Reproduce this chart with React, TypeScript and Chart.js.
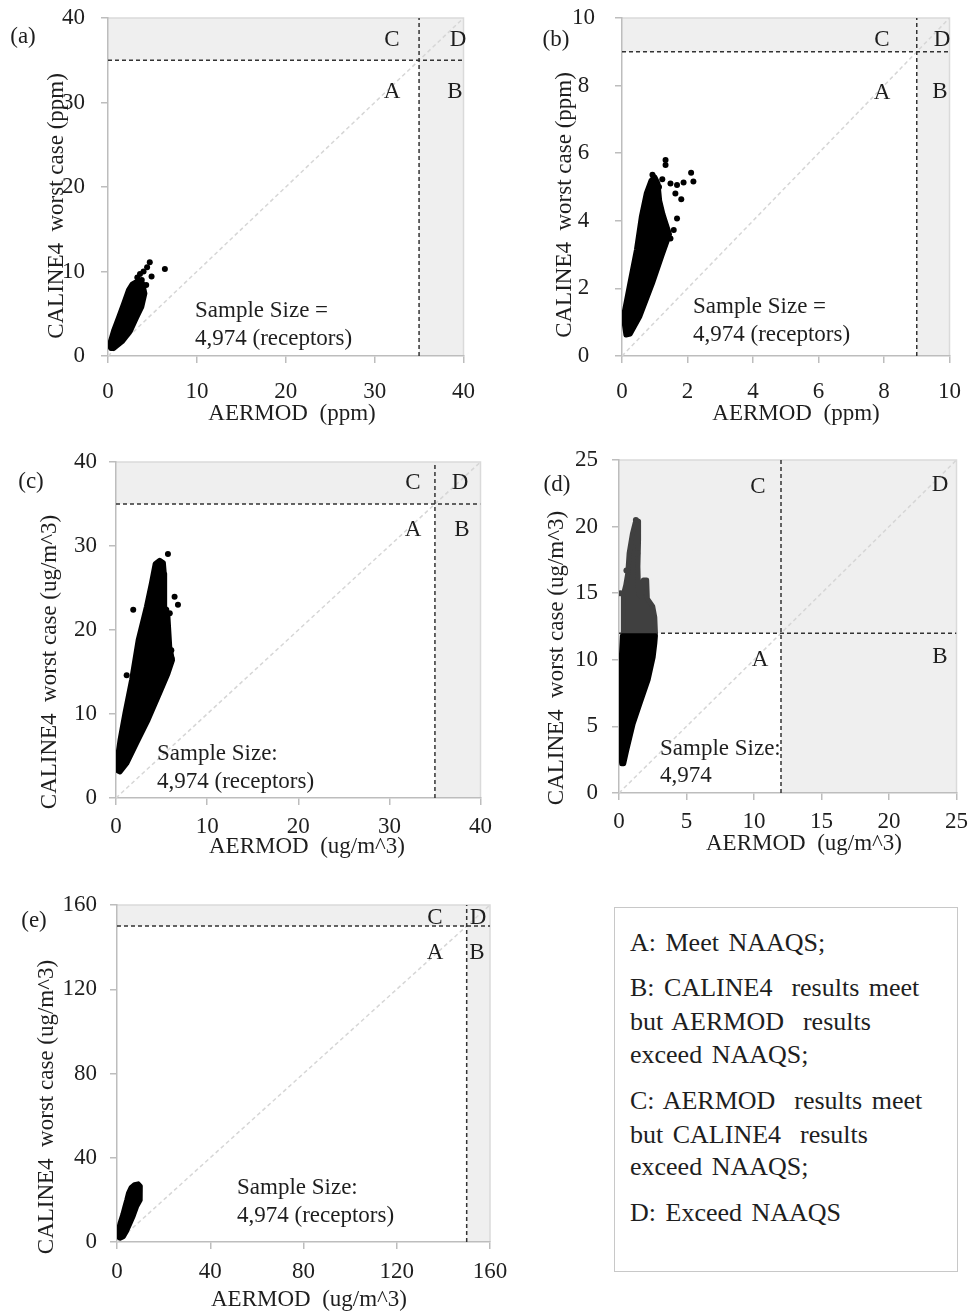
import React, { useEffect, useRef } from "react";
import { Chart, registerables } from "chart.js";

Chart.register(...registerables);

const FONT = "'Liberation Serif', 'Times New Roman', serif";
const FS = 23;
const TXT = "#1e1e1e";
const AX = "#bdbdbd";

// ---------- data ----------
// (a) CO 1-hr, ppm
const aThreshold = 35;
const aBlob = [[0.15,1.3],[0.66,3.1],[1.2,4.6],[1.76,6.2],[2.3,7.8],[2.7,8.5],[3.2,8.8],[3.9,8.6],[4.15,7.4],[3.8,5.8],[3.2,4.5],[2.5,2.9],[1.6,1.7],[0.66,0.9],[0.3,0.9]];
const aOutliers = [[3.3,9.3],[3.6,9.7],[4.0,10.0],[4.4,10.5],[4.7,11.1],[4.9,9.4],[6.4,10.3],[3.8,9.0],[4.3,8.4]];

// (b) CO 8-hr, ppm
const bThreshold = 9;
const bBlob = [[0.12,0.62],[0.04,1.16],[0.24,2.15],[0.44,3.14],[0.59,4.12],[0.74,4.81],[0.89,5.2],[1.0,5.3],[1.1,5.1],[1.15,4.6],[1.25,4.2],[1.35,3.9],[1.45,3.6],[1.23,3.0],[0.93,2.15],[0.54,1.16],[0.25,0.65]];
const bOutliers = [[1.33,5.8],[1.33,5.65],[1.23,5.23],[1.48,5.1],[1.63,4.81],[1.68,5.06],[1.88,5.13],[2.11,5.42],[2.18,5.16],[1.81,4.64],[1.68,4.07],[1.58,3.73],[1.48,3.48],[1.18,4.32],[0.93,5.36],[1.13,5.0]];

// (c) PM2.5 24-hr, ug/m^3
const cThreshold = 35;
const cBlob = [[0.25,3.2],[0.07,4.1],[0.44,6.9],[0.98,10.1],[1.71,14.05],[2.43,18.8],[3.34,22.8],[3.89,25.6],[4.3,27.9],[4.8,28.3],[5.2,28.0],[5.3,26.7],[5.34,22.8],[5.7,21.6],[5.9,18.0],[6.2,16.4],[5.7,14.8],[4.8,12.5],[3.53,9.3],[2.25,6.5],[1.17,4.1],[0.44,3.1]];
const cOutliers = [[5.7,29.05],[1.89,22.4],[6.43,23.96],[6.8,23.0],[5.52,22.4],[1.17,14.6],[4.43,26.9],[5.16,25.2],[5.9,22.0],[6.07,17.6],[6.1,16.6]];

// (d) PM2.5 annual, ug/m^3
const dThreshold = 12;
const dBlobBelow = [[0.2,2.2],[0.05,3.5],[0.0,4.7],[0.07,7.2],[0.15,9.7],[0.25,11.8],[2.7,11.8],[2.65,11.2],[2.53,10.2],[2.16,8.5],[1.55,6.7],[1.05,5.2],[0.57,3.2],[0.35,2.2]];
const dBlobAbove = [[0.3,12.0],[0.35,13.3],[0.3,14.9],[0.5,15.6],[0.65,16.5],[0.75,18.0],[1.0,19.5],[1.2,20.3],[1.45,20.4],[1.45,19.0],[1.4,17.0],[1.45,15.0],[1.6,14.8],[1.8,16.0],[2.05,16.0],[2.1,14.6],[2.5,14.0],[2.65,13.2],[2.7,12.0]];
const dOutliersAbove = [[0.1,15.0],[0.55,16.7],[1.35,18.0],[1.25,20.5]];

// (e) PM10 24-hr, ug/m^3
const eThreshold = 150;
const eBlob = [[0.3,2.5],[0.5,5.0],[1.3,8.9],[2.5,13.0],[3.4,16.8],[4.2,20.0],[4.9,23.1],[6.0,25.8],[7.5,27.2],[9.1,27.6],[10.0,26.5],[10.0,23.0],[9.9,19.9],[8.4,16.8],[7.0,12.5],[5.6,8.9],[4.0,5.0],[2.7,2.5],[1.3,1.8]];

const legendLines = [
  "A: Meet NAAQS;",
  "B: CALINE4  results meet",
  "but AERMOD  results",
  "exceed NAAQS;",
  "C: AERMOD  results meet",
  "but CALINE4  results",
  "exceed NAAQS;",
  "D: Exceed NAAQS",
];

// ---------- layout ----------
type Txt = { t: string; x: number; y: number; align?: CanvasTextAlign };
type PanelCfg = {
  box: { left: number; top: number; w: number; h: number };
  area: { L: number; T: number; R: number; B: number };
  yTitleMid: number; yTitleCenter: number;
  xTitleMid: number; xTitleCenter: number;
  xMax: number; yMax: number; step: number; th: number;
  xTitle: string; yTitle: string;
  yTickPad: number; xTickPad: number; yCross: "near" | "center";
  blobs: { pts: number[][]; color: string; order: number }[];
  points: { pts: number[][]; color: string }[];
  texts: Txt[];
};

const YT_PPM = "CALINE4  worst case (ppm)";
const XT_PPM = "AERMOD  (ppm)";
const YT_UG = "CALINE4  worst case (ug/m^3)";
const XT_UG = "AERMOD  (ug/m^3)";

const panels: PanelCfg[] = [
  {
    box: { left: 0, top: -20, w: 490, h: 455 },
    area: { L: 108, T: 18, R: 472, B: 356 },
    yTitleMid: 57, yTitleCenter: 206, xTitleMid: 414, xTitleCenter: 292,
    xMax: 40, yMax: 40, step: 10, th: aThreshold,
    xTitle: XT_PPM, yTitle: YT_PPM,
    yTickPad: 16, xTickPad: 15, yCross: "near",
    blobs: [{ pts: aBlob, color: "#000", order: 2 }],
    points: [{ pts: aOutliers, color: "#000" }],
    texts: [
      { t: "(a)", x: 23, y: 37 },
      { t: "C", x: 392, y: 40 }, { t: "D", x: 458, y: 40 },
      { t: "A", x: 392, y: 92 }, { t: "B", x: 455, y: 92 },
      { t: "Sample Size =", x: 195, y: 311, align: "left" },
      { t: "4,974 (receptors)", x: 195, y: 339, align: "left" },
    ],
  },
  {
    box: { left: 490, top: -20, w: 486, h: 455 },
    area: { L: 622, T: 18, R: 957, B: 356 },
    yTitleMid: 565, yTitleCenter: 205, xTitleMid: 414, xTitleCenter: 796,
    xMax: 10, yMax: 10, step: 2, th: bThreshold,
    xTitle: XT_PPM, yTitle: YT_PPM,
    yTickPad: 20, xTickPad: 15, yCross: "center",
    blobs: [{ pts: bBlob, color: "#000", order: 2 }],
    points: [{ pts: bOutliers, color: "#000" }],
    texts: [
      { t: "(b)", x: 556, y: 40 },
      { t: "C", x: 882, y: 40 }, { t: "D", x: 942, y: 40 },
      { t: "A", x: 882, y: 93 }, { t: "B", x: 940, y: 92 },
      { t: "Sample Size =", x: 693, y: 307, align: "left" },
      { t: "4,974 (receptors)", x: 693, y: 335, align: "left" },
    ],
  },
  {
    box: { left: 0, top: 435, w: 500, h: 440 },
    area: { L: 116, T: 462, R: 483, B: 798 },
    yTitleMid: 50, yTitleCenter: 662, xTitleMid: 847, xTitleCenter: 307,
    xMax: 40, yMax: 40, step: 10, th: cThreshold,
    xTitle: XT_UG, yTitle: YT_UG,
    yTickPad: 12, xTickPad: 8, yCross: "near",
    blobs: [{ pts: cBlob, color: "#000", order: 2 }],
    points: [{ pts: cOutliers, color: "#000" }],
    texts: [
      { t: "(c)", x: 31, y: 482 },
      { t: "C", x: 413, y: 483 }, { t: "D", x: 460, y: 483 },
      { t: "A", x: 413, y: 530 }, { t: "B", x: 462, y: 530 },
      { t: "Sample Size:", x: 157, y: 754, align: "left" },
      { t: "4,974 (receptors)", x: 157, y: 782, align: "left" },
    ],
  },
  {
    box: { left: 490, top: 425, w: 486, h: 450 },
    area: { L: 619, T: 460, R: 958, B: 793 },
    yTitleMid: 557, yTitleCenter: 658, xTitleMid: 844, xTitleCenter: 804,
    xMax: 25, yMax: 25, step: 5, th: dThreshold,
    xTitle: XT_UG, yTitle: YT_UG,
    yTickPad: 14, xTickPad: 8, yCross: "near",
    blobs: [
      { pts: dBlobAbove, color: "#404040", order: 3 },
      { pts: dBlobBelow, color: "#000", order: 2 },
    ],
    points: [{ pts: dOutliersAbove, color: "#404040" }],
    texts: [
      { t: "(d)", x: 557, y: 485 },
      { t: "C", x: 758, y: 487 }, { t: "D", x: 940, y: 485 },
      { t: "A", x: 760, y: 660 }, { t: "B", x: 940, y: 657 },
      { t: "Sample Size:", x: 660, y: 749, align: "left" },
      { t: "4,974", x: 660, y: 776, align: "left" },
    ],
  },
  {
    box: { left: 0, top: 870, w: 520, h: 445 },
    area: { L: 117, T: 905, R: 490, B: 1242 },
    yTitleMid: 47, yTitleCenter: 1107, xTitleMid: 1300, xTitleCenter: 309,
    xMax: 160, yMax: 160, step: 40, th: eThreshold,
    xTitle: XT_UG, yTitle: YT_UG,
    yTickPad: 13, xTickPad: 9, yCross: "near",
    blobs: [{ pts: eBlob, color: "#000", order: 2 }],
    points: [],
    texts: [
      { t: "(e)", x: 34, y: 921 },
      { t: "C", x: 435, y: 918 }, { t: "D", x: 478, y: 918 },
      { t: "A", x: 435, y: 953 }, { t: "B", x: 477, y: 953 },
      { t: "Sample Size:", x: 237, y: 1188, align: "left" },
      { t: "4,974 (receptors)", x: 237, y: 1216, align: "left" },
    ],
  },
];

const legendBox = { left: 614, top: 907, w: 344, h: 365, textLeft: 630 };
const legendCenters = [943, 988, 1022, 1055, 1101, 1135, 1167, 1213];

const toPts = (arr: number[][]) => arr.map(([x, y]) => ({ x, y }));

function Panel({ p }: { p: PanelCfg }) {
  const ref = useRef<HTMLCanvasElement>(null);
  useEffect(() => {
    const c = ref.current;
    if (!c) return;
    const lh = FS * 1.2;
    const yTitleLeft = p.yTitleMid - lh / 2;
    const xTitleBottom = p.xTitleMid + lh / 2;
    const padL = yTitleLeft - p.box.left;
    const yW = p.area.L - yTitleLeft;
    const padT = p.area.T - p.box.top;
    const padR = p.box.left + p.box.w - p.area.R;
    const padB = p.box.top + p.box.h - xTitleBottom;
    const xH = xTitleBottom - p.area.B;

    const datasets: any[] = [];
    datasets.push({
      type: "line",
      data: [{ x: 0, y: 0 }, { x: p.xMax, y: p.yMax }],
      borderColor: "#d6d6d6", borderWidth: 1.5, borderDash: [4, 3],
      pointRadius: 0, fill: false, order: 6,
    });
    datasets.push({
      type: "line",
      data: [{ x: p.th, y: 0 }, { x: p.th, y: p.yMax }],
      borderColor: "#333", borderWidth: 1.5, borderDash: [4, 3],
      pointRadius: 0, fill: false, order: 5,
    });
    datasets.push({
      type: "line",
      data: [{ x: 0, y: p.th }, { x: p.xMax, y: p.th }],
      borderColor: "#333", borderWidth: 1.5, borderDash: [4, 3],
      pointRadius: 0, fill: false, order: 5,
    });
    for (const b of p.blobs) {
      const pts = toPts(b.pts);
      pts.push({ ...pts[0] });
      datasets.push({
        type: "line",
        data: pts,
        borderColor: b.color, backgroundColor: b.color,
        borderWidth: 5, borderJoinStyle: "round", borderCapStyle: "round",
        pointRadius: 0, tension: 0, fill: "shape", order: b.order,
      });
    }
    for (const s of p.points) {
      datasets.push({
        type: "scatter",
        data: toPts(s.pts),
        backgroundColor: s.color, borderWidth: 0, pointRadius: 3, order: 1,
      });
    }

    const ox = p.box.left;
    const oy = p.box.top;
    const deco = {
      id: "deco",
      beforeDraw(chart: any) {
        const { ctx, chartArea: a, scales } = chart;
        const xt = scales.x.getPixelForValue(p.th);
        const yt = scales.y.getPixelForValue(p.th);
        ctx.save();
        ctx.fillStyle = "#efefef";
        ctx.fillRect(a.left, a.top, a.right - a.left, yt - a.top);
        ctx.fillRect(xt, a.top, a.right - xt, a.bottom - a.top);
        ctx.strokeStyle = "#dadada";
        ctx.lineWidth = 1.5;
        ctx.beginPath();
        ctx.moveTo(a.left, a.top);
        ctx.lineTo(a.right, a.top);
        ctx.lineTo(a.right, a.bottom);
        ctx.stroke();
        ctx.restore();
      },
      afterDraw(chart: any) {
        const { ctx } = chart;
        ctx.save();
        ctx.font = `${FS}px ${FONT}`;
        ctx.fillStyle = TXT;
        ctx.textBaseline = "middle";
        for (const t of p.texts) {
          ctx.textAlign = t.align || "center";
          ctx.fillText(t.t, t.x - ox, t.y - oy);
        }
        // axis titles
        ctx.textAlign = "center";
        ctx.fillText(p.xTitle, p.xTitleCenter - ox, p.xTitleMid - oy);
        ctx.translate(p.yTitleMid - ox, p.yTitleCenter - oy);
        ctx.rotate(-Math.PI / 2);
        ctx.fillText(p.yTitle, 0, 0);
        ctx.restore();
      },
    };

    const font = { family: FONT, size: FS, lineHeight: 1.2 };
    const chart = new Chart(c, {
      type: "scatter",
      data: { datasets },
      options: {
        animation: false,
        responsive: false,
        devicePixelRatio: 1,
        events: [],
        layout: { padding: { left: padL, top: padT, right: padR, bottom: padB } },
        plugins: { legend: { display: false }, tooltip: { enabled: false } },
        scales: {
          x: {
            type: "linear", min: 0, max: p.xMax,
            afterFit: (s: any) => { s.height = xH; },
            ticks: { stepSize: p.step, font, color: TXT, padding: p.xTickPad, maxRotation: 0, autoSkip: false },
            grid: { display: true, drawOnChartArea: false, drawTicks: true, tickLength: 7, color: AX, lineWidth: 1.5 },
            border: { display: true, color: AX, width: 1.5 },
            title: { display: false },
          },
          y: {
            type: "linear", min: 0, max: p.yMax,
            afterFit: (s: any) => { s.width = yW; },
            ticks: { stepSize: p.step, font, color: TXT, padding: p.yTickPad, crossAlign: p.yCross, autoSkip: false },
            grid: { display: true, drawOnChartArea: false, drawTicks: true, tickLength: 7, color: AX, lineWidth: 1.5 },
            border: { display: true, color: AX, width: 1.5 },
            title: { display: false },
          },
        },
      } as any,
      plugins: [deco as any],
    });
    return () => chart.destroy();
  }, [p]);
  return (
    <canvas
      ref={ref}
      width={p.box.w}
      height={p.box.h}
      style={{ position: "absolute", left: p.box.left, top: p.box.top, width: p.box.w, height: p.box.h }}
    />
  );
}

export default function App() {
  const LH = 30;
  return (
    <div style={{ position: "absolute", left: 0, top: 0, width: 976, height: 1315, background: "#fff", overflow: "hidden" }}>
      {panels.map((p, i) => (
        <Panel key={i} p={p} />
      ))}
      <div
        style={{
          position: "absolute", left: legendBox.left, top: legendBox.top,
          width: legendBox.w, height: legendBox.h, boxSizing: "border-box",
          border: "1.5px solid #c8c8c8",
        }}
      />
      {legendLines.map((t, i) => (
        <div
          key={i}
          style={{
            position: "absolute", left: legendBox.textLeft, top: legendCenters[i] - 15.2,
            fontFamily: FONT, fontSize: 26, lineHeight: `${LH}px`, color: TXT,
            whiteSpace: "pre", wordSpacing: 3,
          }}
        >
          {t}
        </div>
      ))}
    </div>
  );
}
